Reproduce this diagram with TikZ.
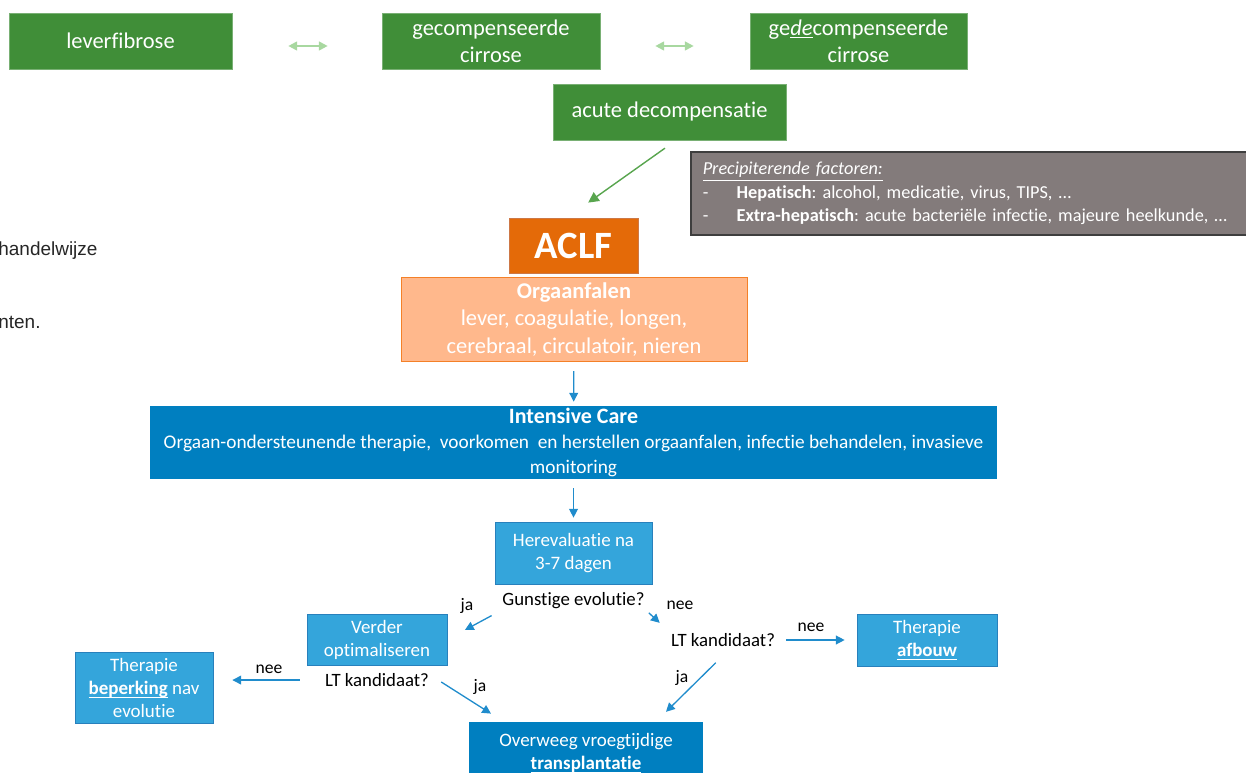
\documentclass[tikz,border=0pt]{standalone}
\usepackage{fontspec}
\setmainfont{Carlito}[Ligatures=NoCommon]
\newfontfamily\fragfont{Liberation Sans}
\usetikzlibrary{arrows.meta,positioning}
\frenchspacing
\newcommand{\onderstreept}[1]{\underline{\smash{#1}}}

\definecolor{ziektegroen}{RGB}{64,142,56}
\definecolor{lichtgroen}{RGB}{168,216,160}
\definecolor{pijlgroen}{RGB}{88,165,78}
\definecolor{factorgrijs}{RGB}{131,123,123}
\definecolor{randgrijs}{RGB}{62,62,62}
\definecolor{aclforanje}{RGB}{228,106,8}
\definecolor{aclfrand}{RGB}{205,120,70}
\definecolor{orgaanoranje}{RGB}{255,184,140}
\definecolor{orgaanrand}{RGB}{244,128,40}
\definecolor{icblauw}{RGB}{0,127,192}
\definecolor{lichtblauw}{RGB}{52,165,219}
\definecolor{blauwrand}{RGB}{40,128,188}
\definecolor{pijlblauw}{RGB}{32,140,204}

\begin{document}
\begin{tikzpicture}[x=0.02cm, y=-0.02cm,
    stadium/.style={draw=ziektegroen!70!white, fill=ziektegroen, text=white,
      minimum height=1.12cm, align=center, font=\fontsize{12.8}{15.4}\selectfont},
    factoren/.style={draw=randgrijs, line width=0.9pt, fill=factorgrijs, text=white,
      minimum width=11.24cm, minimum height=1.66cm, text width=10.76cm, align=left,
      font=\fontsize{10.4}{13.4}\selectfont},
    aclf/.style={draw=aclfrand, fill=aclforanje, text=white,
      minimum width=2.58cm, minimum height=1.1cm, font=\fontsize{22}{26}\selectfont\bfseries},
    orgaan/.style={draw=orgaanrand, fill=orgaanoranje, text=white, align=center,
      minimum width=6.92cm, minimum height=1.66cm, font=\fontsize{12.8}{15.4}\selectfont},
    zorgbox/.style={fill=icblauw, text=white, align=center, inner ysep=1pt,
      font=\fontsize{11}{14}\selectfont},
    stapbox/.style={draw=blauwrand, fill=lichtblauw, text=white, align=center,
      font=\fontsize{10.8}{13.1}\selectfont},
    vraag/.style={inner sep=1pt, font=\fontsize{10.7}{13}\selectfont},
    antw/.style={inner sep=0pt, font=\fontsize{10}{12}\selectfont},
    overgang/.style={draw=lichtgroen, line width=1.1pt, {Triangle[length=5pt,width=5pt]}-{Triangle[length=5pt,width=5pt]}},
    groenpijl/.style={draw=pijlgroen, line width=0.8pt, -{Triangle[length=6pt,width=6pt]}},
    blauwpijl/.style={draw=pijlblauw, line width=0.75pt, -{Triangle[length=5pt,width=5pt]}}]
  \useasboundingbox (0,0) rectangle (1246,773);

  % ziektestadia
  \node[stadium, minimum width=4.46cm] (Fibrose) at (120.5,41) {leverfibrose};
  \node[stadium, minimum width=4.36cm] (Comp) at (491,41) {gecompenseerde\\cirrose};
  \node[stadium, minimum width=4.34cm] (Decomp) at (858.5,41)
    {ge\underline{\textit{de}}compenseerde\\cirrose};
  \node[stadium, minimum width=4.66cm] (AcuteDec) at (669.5,112) {acute decompensatie};
  \draw[overgang, shorten <=1.12cm, shorten >=1.08cm]
    ([yshift=-0.1cm]Fibrose.east) -- ([yshift=-0.1cm]Comp.west);
  \draw[overgang, shorten <=1.1cm, shorten >=1.12cm]
    ([yshift=-0.1cm]Comp.east) -- ([yshift=-0.1cm]Decomp.west);

  \node[factoren, anchor=north west] (Factoren) at (690,151)
    {\underline{\textit{Precipiterende factoren:}}\\
     \makebox[1.85em][l]{-}\textbf{Hepatisch}: alcohol, medicatie, virus, TIPS, …\\
     \makebox[1.85em][l]{-}\textbf{Extra-hepatisch}: acute bacteriële infectie, majeure heelkunde, …};

  % ACLF en orgaanfalen
  \node[aclf] (ACLF) at (573.5,245.5) {ACLF};
  \node[orgaan] (Orgaan) at (574,319.5)
    {\textbf{Orgaanfalen}\\lever, coagulatie, longen,\\cerebraal, circulatoir, nieren};
  \draw[groenpijl, shorten <=0.27cm, shorten >=0.52cm]
    ([xshift=0.13cm]AcuteDec.south) -- ([xshift=-0.13cm]ACLF.north);

  \node[zorgbox, minimum width=16.94cm, minimum height=1.46cm] (IC) at (573.5,442.5)
    {{\fontsize{12.5}{14}\selectfont\textbf{Intensive Care}}\\
     Orgaan-ondersteunende therapie,\ \ voorkomen\ \ en herstellen orgaanfalen, infectie behandelen, invasieve\\
     monitoring};
  \draw[blauwpijl, shorten <=0.18cm, shorten >=0.08cm] (Orgaan) -- (IC);

  \node[stapbox, minimum width=3.14cm, minimum height=1.24cm] (Herev) at (573.5,553)
    {Herevaluatie na\\3-7 dagen};
  \draw[blauwpijl, shorten <=0.18cm, shorten >=0.08cm] (IC) -- (Herev);
  \node[vraag, below=0.12cm of Herev] (Gunstig) {Gunstige evolutie?};

  % ja-tak
  \node[stapbox, minimum width=2.8cm, minimum height=1.02cm] (Optim) at (377,639.5)
    {Verder\\optimaliseren};
  \node[vraag, below=0.12cm of Optim] (LTLinks) {LT kandidaat?};
  \node[stapbox, minimum width=2.76cm, minimum height=1.36cm] (Beperking) at (144,688)
    {Therapie\\\onderstreept{\textbf{beperking}} nav\\evolutie};

  % nee-tak
  \node[vraag] (LTRechts) at (723,640) {LT kandidaat?};
  \node[stapbox, minimum width=2.8cm, minimum height=1.02cm] (Afbouw) at (927,640.5)
    {Therapie\\\onderstreept{\textbf{afbouw}}};

  \node[zorgbox, minimum width=4.68cm, minimum height=1.26cm,
    font=\fontsize{10.8}{13.1}\selectfont] (Transpl) at (586,753.5)
    {Overweeg vroegtijdige\\\onderstreept{\textbf{transplantatie}}};

  \draw[blauwpijl, shorten <=0.2cm, shorten >=0.4cm] (Gunstig.south west) -- (Optim.east);
  \draw[blauwpijl, shorten <=0.06cm, shorten >=0.25cm] (Gunstig.south east) -- (LTRechts.north west);
  \draw[blauwpijl, shorten <=0.46cm, shorten >=0.38cm] (LTLinks.west) -- (LTLinks.west -| Beperking.east);
  \draw[blauwpijl, shorten <=0.24cm, shorten >=0.3cm]
    ([yshift=0.09cm]LTLinks.east) -- ([xshift=0.7cm]Transpl.north west);
  \draw[blauwpijl, shorten <=0.18cm, shorten >=0.24cm] (LTRechts.east) -- (LTRechts.east -| Afbouw.west);
  \draw[blauwpijl, shorten <=0.4cm, shorten >=0.28cm]
    ([xshift=0.14cm]LTRechts.south) -- ([xshift=1.4cm]Transpl.north);

  \node[antw] (JaA) at (467,606) {ja};
  \node[antw] (NeeA) at (680,605) {nee};
  \node[antw] (NeeB) at (269,669) {nee};
  \node[antw] (JaB) at (480,687) {ja};
  \node[antw] (NeeC) at (811,627) {nee};
  \node[antw] (JaC) at (682,678) {ja};

  % afgesneden tekst links
  \node[anchor=west, inner sep=0pt, text=black!85, font=\fragfont\fontsize{10.8}{12}\selectfont]
    (FragA) at (-2,251) {handelwijze};
  \node[anchor=west, inner sep=0pt, text=black!85, font=\fragfont\fontsize{10.8}{12}\selectfont]
    (FragB) at (-2,322) {nten.};
\end{tikzpicture}
\end{document}
